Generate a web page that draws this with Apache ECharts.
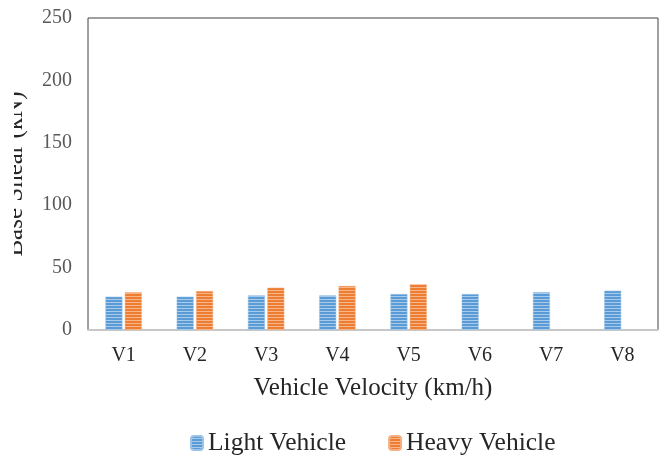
<!DOCTYPE html>
<html>
<head>
<meta charset="utf-8">
<script src="https://cdn.jsdelivr.net/npm/echarts@6/dist/echarts.min.js"></script>
<style>html,body{margin:0;padding:0;background:#fff}#c{width:664px;height:459px}</style>
</head>
<body>
<div id="c"></div>
<script>
const categories = ['V1','V2','V3','V4','V5','V6','V7','V8'];
const lightVehicle = [26.7, 26.7, 27.7, 27.7, 28.8, 28.8, 30.3, 31.5];
const heavyVehicle = [30.2, 31.2, 33.9, 35.3, 36.6, null, null, null];
const yTicks = [0, 50, 100, 150, 200, 250];

function stripe(base, light) {
  const c = document.createElement('canvas');
  c.width = 4; c.height = 3;
  const g = c.getContext('2d');
  g.fillStyle = base; g.fillRect(0, 0, 4, 3);
  g.fillStyle = light; g.fillRect(0, 2, 4, 1);
  return { image: c, repeat: 'repeat' };
}
const FONT = "'Liberation Serif', 'Times New Roman', serif";
const chart = echarts.init(document.getElementById('c'));
chart.setOption({
  animation: false,
  grid: { left: 88, right: 6, top: 18, bottom: 129, show: true, borderColor: '#404040', borderWidth: 1,
          containLabel: false, outerBoundsMode: 'none' },
  legend: {
    top: 425, left: 185, itemWidth: 12, itemHeight: 14, itemGap: 42,
    textStyle: { fontFamily: FONT, fontSize: 25.5, color: '#262626' },
    data: ['Light Vehicle', 'Heavy Vehicle']
  },
  xAxis: {
    type: 'category', data: categories,
    name: 'Vehicle Velocity (km/h)', nameLocation: 'middle', nameGap: 46,
    nameTextStyle: { fontFamily: FONT, fontSize: 25, color: '#262626' },
    axisLine: { lineStyle: { color: '#c8c8c8', width: 2 } },
    axisTick: { show: false },
    axisLabel: { fontFamily: FONT, fontSize: 20, color: '#262626', margin: 16 }
  },
  yAxis: {
    type: 'value', min: yTicks[0], max: yTicks[yTicks.length - 1], interval: 50,
    name: 'Base Shear (kN)', nameLocation: 'middle', nameGap: 60, nameRotate: 90,
    nameTextStyle: { fontFamily: FONT, fontSize: 25, color: '#262626' },
    axisLine: { show: false }, axisTick: { show: false }, splitLine: { show: false },
    axisLabel: { fontFamily: FONT, fontSize: 20, color: '#595959', margin: 16 }
  },
  series: [
    { name: 'Light Vehicle', type: 'bar', data: lightVehicle, barWidth: 17, barGap: '14%',
      itemStyle: { color: stripe('#5b9bd5', '#a9cbeb'), borderColor: '#9cc2e5', borderWidth: 0.5 } },
    { name: 'Heavy Vehicle', type: 'bar', data: heavyVehicle, barWidth: 17,
      itemStyle: { color: stripe('#ed7d31', '#f6b58a'), borderColor: '#f4b183', borderWidth: 0.5 } }
  ],
  graphic: [
    { type: 'rect', left: 0, top: 60, z: 100, shape: { width: 14, height: 220 }, style: { fill: '#fff' } }
  ]
});
</script>
</body>
</html>
